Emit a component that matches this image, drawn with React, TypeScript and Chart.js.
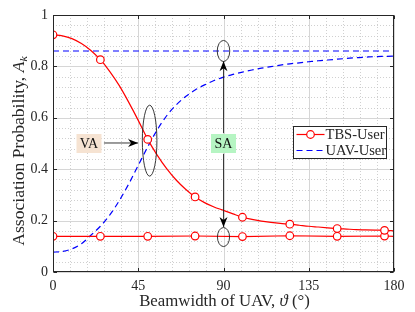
import { useEffect, useRef } from "react";
import { Chart, registerables } from "chart.js";

Chart.register(...registerables);

// ---------- data ----------
const xTickValues = [0, 45, 90, 135, 180];
const yTickValues = [0, 0.2, 0.4, 0.6, 0.8, 1];

const curveX = [0, 5, 10, 15, 20, 25, 30, 35, 40, 45, 50, 55, 60, 65, 70, 75, 80, 85, 90, 95, 100, 105, 110, 115, 120, 125, 130, 135, 140, 145, 150, 155, 160, 165, 170, 175, 180];
const tbsVariableY = [0.923, 0.919, 0.908, 0.889, 0.862, 0.826, 0.78, 0.725, 0.66, 0.59, 0.516, 0.455, 0.402, 0.358, 0.322, 0.292, 0.27, 0.253, 0.24, 0.226, 0.213, 0.205, 0.198, 0.193, 0.189, 0.186, 0.182, 0.178, 0.175, 0.172, 0.169, 0.167, 0.165, 0.164, 0.163, 0.162, 0.16];
const uavVariableY = [0.077, 0.08, 0.09, 0.11, 0.143, 0.178, 0.222, 0.278, 0.343, 0.415, 0.487, 0.553, 0.608, 0.65, 0.683, 0.708, 0.728, 0.745, 0.758, 0.769, 0.778, 0.786, 0.793, 0.799, 0.805, 0.81, 0.814, 0.818, 0.822, 0.825, 0.828, 0.831, 0.834, 0.836, 0.838, 0.839, 0.84];

const tbsStaticX = [0, 25, 50, 75, 100, 125, 150, 175, 180];
const tbsStaticY = [0.139, 0.139, 0.139, 0.14, 0.138, 0.141, 0.139, 0.14, 0.139];

const uavStaticX = [0, 45, 90, 135, 180];
const uavStaticY = [0.86, 0.86, 0.86, 0.86, 0.86];

const markerX = [0, 25, 50, 75, 100, 125, 150, 175];

const legendLabels = ["TBS-User", "UAV-User"];

// annotations (data coordinates)
const vaLabel = { text: "VA", x: 19, y: 0.5 };
const saLabel = { text: "SA", x: 90, y: 0.5 };
const vaArrow = { x0: 26.9, x1: 44.9, y: 0.502 };
const saArrowUp = { x: 90, y0: 0.54, y1: 0.82 };
const saArrowDown = { x: 90, y0: 0.46, y1: 0.175 };
const ellipses = [
  { cx: 51, cy: 0.511, rx: 3.85, ry: 0.138 },
  { cx: 90, cy: 0.86, rx: 3.3, ry: 0.041 },
  { cx: 90, cy: 0.136, rx: 3.2, ry: 0.037 },
];

const RED = "#ff0000";
const BLUE = "#0000ff";
const AXIS = "#262626";
const SERIF = "'Liberation Serif', 'DejaVu Serif', serif";

function fmtTick(v: number) {
  if (Math.abs(v) < 1e-9) return "0";
  if (Math.abs(v - 1) < 1e-9) return "1";
  return v.toFixed(1);
}

function drawArrowHead(ctx: CanvasRenderingContext2D, x0: number, y0: number, x1: number, y1: number) {
  const ang = Math.atan2(y1 - y0, x1 - x0);
  const L = 10;
  const W = 4;
  ctx.save();
  ctx.translate(x1, y1);
  ctx.rotate(ang);
  ctx.beginPath();
  ctx.moveTo(0, 0);
  ctx.lineTo(-L, -W);
  ctx.lineTo(-L * 0.7, 0);
  ctx.lineTo(-L, W);
  ctx.closePath();
  ctx.fillStyle = "#000";
  ctx.fill();
  ctx.restore();
}

function drawParts(ctx: CanvasRenderingContext2D, parts: [string, string, number][], stretch: number) {
  let total = 0;
  parts.forEach(([s, f]) => {
    ctx.font = f;
    total += ctx.measureText(s).width;
  });
  ctx.scale(stretch, 1);
  let cx = -total / 2;
  parts.forEach(([s, f, dy]) => {
    ctx.font = f;
    ctx.fillText(s, cx, dy);
    cx += ctx.measureText(s).width;
  });
}

const decorPlugin = {
  id: "decor",
  beforeDatasetsDraw(chart: any) {
    const { ctx, chartArea: a, scales } = chart;
    const xs = scales.x;
    const ys = scales.y;
    ctx.save();
    // minor grid
    ctx.strokeStyle = "#c4c4c4";
    ctx.lineWidth = 0.8;
    ctx.setLineDash([1, 2]);
    for (let v = 9; v < 180; v += 9) {
      if (v % 45 === 0) continue;
      const px = Math.round(xs.getPixelForValue(v)) + 0.5;
      ctx.beginPath();
      ctx.moveTo(px, a.top);
      ctx.lineTo(px, a.bottom);
      ctx.stroke();
    }
    for (let i = 1; i < 25; i++) {
      if (i % 5 === 0) continue;
      const py = Math.round(ys.getPixelForValue(i * 0.04)) + 0.5;
      ctx.beginPath();
      ctx.moveTo(a.left, py);
      ctx.lineTo(a.right, py);
      ctx.stroke();
    }
    // major grid
    ctx.setLineDash([]);
    ctx.strokeStyle = "#d6d6d6";
    ctx.lineWidth = 1;
    xTickValues.forEach((v) => {
      const px = Math.round(xs.getPixelForValue(v)) + 0.5;
      ctx.beginPath();
      ctx.moveTo(px, a.top);
      ctx.lineTo(px, a.bottom);
      ctx.stroke();
    });
    yTickValues.forEach((v) => {
      const py = Math.round(ys.getPixelForValue(v)) + 0.5;
      ctx.beginPath();
      ctx.moveTo(a.left, py);
      ctx.lineTo(a.right, py);
      ctx.stroke();
    });
    ctx.restore();
  },
  afterDatasetsDraw(chart: any) {
    const { ctx, chartArea: a, scales } = chart;
    const xs = scales.x;
    const ys = scales.y;
    const X = (v: number) => xs.getPixelForValue(v);
    const Y = (v: number) => ys.getPixelForValue(v);
    ctx.save();

    // ellipses
    ctx.strokeStyle = "#222";
    ctx.lineWidth = 0.9;
    ellipses.forEach((e) => {
      const cx = X(e.cx);
      const cy = Y(e.cy);
      const rx = Math.abs(X(e.cx + e.rx) - cx);
      const ry = Math.abs(Y(e.cy + e.ry) - cy);
      ctx.beginPath();
      ctx.ellipse(cx, cy, rx, ry, 0, 0, Math.PI * 2);
      ctx.stroke();
    });

    // arrows
    ctx.strokeStyle = "#222";
    ctx.lineWidth = 0.9;
    const arrows = [
      [X(vaArrow.x0), Y(vaArrow.y), X(vaArrow.x1), Y(vaArrow.y)],
      [X(saArrowUp.x), Y(saArrowUp.y0), X(saArrowUp.x), Y(saArrowUp.y1)],
      [X(saArrowDown.x), Y(saArrowDown.y0), X(saArrowDown.x), Y(saArrowDown.y1)],
    ];
    arrows.forEach(([x0, y0, x1, y1]) => {
      ctx.beginPath();
      ctx.moveTo(x0, y0);
      ctx.lineTo(x1, y1);
      ctx.stroke();
      drawArrowHead(ctx, x0, y0, x1, y1);
    });

    // label boxes
    const boxes = [
      { ...vaLabel, fill: "#f6e3d2" },
      { ...saLabel, fill: "#b6f5c3" },
    ];
    ctx.font = `14px ${SERIF}`;
    ctx.textAlign = "center";
    ctx.textBaseline = "middle";
    boxes.forEach((b) => {
      const cx = X(b.x);
      const cy = Y(b.y);
      ctx.fillStyle = b.fill;
      ctx.fillRect(cx - 12.5, cy - 9.5, 25, 19);
      ctx.fillStyle = "#111";
      ctx.fillText(b.text, cx, cy + 0.5);
    });

    // frame
    ctx.strokeStyle = AXIS;
    ctx.lineWidth = 1;
    const l = Math.round(a.left) + 0.5;
    const r = Math.round(a.right) - 0.5;
    const t = Math.round(a.top) + 0.5;
    const bt = Math.round(a.bottom) - 0.5;
    ctx.strokeRect(l, t, r - l, bt - t);
    const tl = 3.5;
    ctx.beginPath();
    xTickValues.forEach((v) => {
      const px = Math.round(X(v)) + 0.5;
      ctx.moveTo(px, bt);
      ctx.lineTo(px, bt - tl);
      ctx.moveTo(px, t);
      ctx.lineTo(px, t + tl);
    });
    yTickValues.forEach((v) => {
      const py = Math.round(Y(v)) + 0.5;
      ctx.moveTo(l, py);
      ctx.lineTo(l + tl, py);
      ctx.moveTo(r, py);
      ctx.lineTo(r - tl, py);
    });
    ctx.stroke();

    // legend
    const lx = 293.5;
    const ly = 126.5;
    const lw = 93;
    const lh = 32;
    ctx.fillStyle = "#fff";
    ctx.fillRect(lx, ly, lw, lh);
    ctx.strokeStyle = AXIS;
    ctx.lineWidth = 1;
    ctx.strokeRect(lx, ly, lw, lh);
    const row1 = ly + 8;
    const row2 = ly + 24;
    ctx.lineWidth = 1.2;
    ctx.strokeStyle = RED;
    ctx.beginPath();
    ctx.moveTo(lx + 3, row1);
    ctx.lineTo(lx + 31, row1);
    ctx.stroke();
    ctx.beginPath();
    ctx.arc(lx + 17, row1, 3.8, 0, Math.PI * 2);
    ctx.fillStyle = "#fff";
    ctx.fill();
    ctx.stroke();
    ctx.strokeStyle = BLUE;
    ctx.setLineDash([6, 4]);
    ctx.beginPath();
    ctx.moveTo(lx + 3, row2);
    ctx.lineTo(lx + 31, row2);
    ctx.stroke();
    ctx.setLineDash([]);
    ctx.fillStyle = AXIS;
    ctx.font = `14px ${SERIF}`;
    ctx.textAlign = "left";
    ctx.textBaseline = "middle";
    ctx.save();
    ctx.translate(lx + 32, 0);
    ctx.scale(1.04, 1);
    ctx.fillText(legendLabels[0], 0, row1 + 0.5);
    ctx.fillText(legendLabels[1], 0, row2 + 0.5);
    ctx.restore();

    // axis titles
    const titleSize = 16;
    const normal = `${titleSize}px ${SERIF}`;
    const italic = `italic ${titleSize}px ${SERIF}`;
    const sub = `italic 11px ${SERIF}`;
    ctx.fillStyle = AXIS;
    ctx.textBaseline = "alphabetic";
    ctx.textAlign = "left";
    // x title
    ctx.save();
    ctx.translate((a.left + a.right) / 2 + 1, 305.5);
    drawParts(
      ctx,
      [
        ["Beamwidth of UAV, ", normal, 0],
        ["\u03D1", italic, 0],
        [" (\u00B0)", normal, 0],
      ],
      1.05
    );
    ctx.restore();
    // y title
    ctx.save();
    ctx.translate(24, 151);
    ctx.rotate(-Math.PI / 2);
    drawParts(
      ctx,
      [
        ["Association Probability, ", normal, 0],
        ["A", italic, 0],
        ["k", sub, 3],
      ],
      1.1
    );
    ctx.restore();
    ctx.restore();
  },
};

export default function App() {
  const ref = useRef<HTMLCanvasElement | null>(null);
  useEffect(() => {
    if (!ref.current) return;
    const markerRadius = (ctx: any) => {
      const raw = ctx.raw;
      return raw && markerX.includes(raw.x) ? 3.8 : 0;
    };
    const chart = new Chart(ref.current, {
      type: "line",
      data: {
        datasets: [
          {
            label: legendLabels[0],
            data: curveX.map((x, i) => ({ x, y: tbsVariableY[i] })),
            borderColor: RED,
            borderWidth: 1.2,
            pointRadius: markerRadius,
            pointBackgroundColor: "#fff",
            pointBorderColor: RED,
            pointBorderWidth: 1.2,
            cubicInterpolationMode: "monotone",
            fill: false,
          },
          {
            label: legendLabels[0],
            data: tbsStaticX.map((x, i) => ({ x, y: tbsStaticY[i] })),
            borderColor: RED,
            borderWidth: 1.2,
            pointRadius: markerRadius,
            pointBackgroundColor: "#fff",
            pointBorderColor: RED,
            pointBorderWidth: 1.2,
            tension: 0,
            fill: false,
          },
          {
            label: legendLabels[1],
            data: uavStaticX.map((x, i) => ({ x, y: uavStaticY[i] })),
            borderColor: BLUE,
            borderWidth: 1.2,
            borderDash: [6, 4],
            pointRadius: 0,
            fill: false,
          },
          {
            label: legendLabels[1],
            data: curveX.map((x, i) => ({ x, y: uavVariableY[i] })),
            borderColor: BLUE,
            borderWidth: 1.2,
            borderDash: [6, 4],
            pointRadius: 0,
            cubicInterpolationMode: "monotone",
            fill: false,
          },
        ],
      },
      options: {
        responsive: false,
        animation: false,
        devicePixelRatio: 1,
        layout: { padding: { top: 15, right: 21, left: 0, bottom: 0 } },
        plugins: { legend: { display: false }, tooltip: { enabled: false } },
        scales: {
          x: {
            type: "linear",
            min: 0,
            max: 180,
            afterBuildTicks: (s: any) => {
              s.ticks = xTickValues.map((v) => ({ value: v }));
            },
            ticks: {
              font: { family: SERIF, size: 14 },
              color: AXIS,
              padding: 6,
              maxRotation: 0,
            },
            grid: { display: true, drawOnChartArea: false, drawTicks: false, color: "rgba(0,0,0,0)" },
            border: { display: false },
            afterFit: (s: any) => {
              s.height = 40;
            },
          },
          y: {
            type: "linear",
            min: 0,
            max: 1,
            afterBuildTicks: (s: any) => {
              s.ticks = yTickValues.map((v) => ({ value: v }));
            },
            ticks: {
              font: { family: SERIF, size: 14 },
              color: AXIS,
              padding: 5,
              callback: (v: any) => fmtTick(Number(v)),
            },
            grid: { display: true, drawOnChartArea: false, drawTicks: false, color: "rgba(0,0,0,0)" },
            border: { display: false },
            afterFit: (s: any) => {
              s.width = 53;
            },
          },
        },
      } as any,
      plugins: [decorPlugin],
    });
    return () => chart.destroy();
  }, []);
  return (
    <div style={{ position: "fixed", left: 0, top: 0, width: 415, height: 312, background: "#fff" }}>
      <canvas ref={ref} width={415} height={312} style={{ width: 415, height: 312, display: "block" }} />
    </div>
  );
}
